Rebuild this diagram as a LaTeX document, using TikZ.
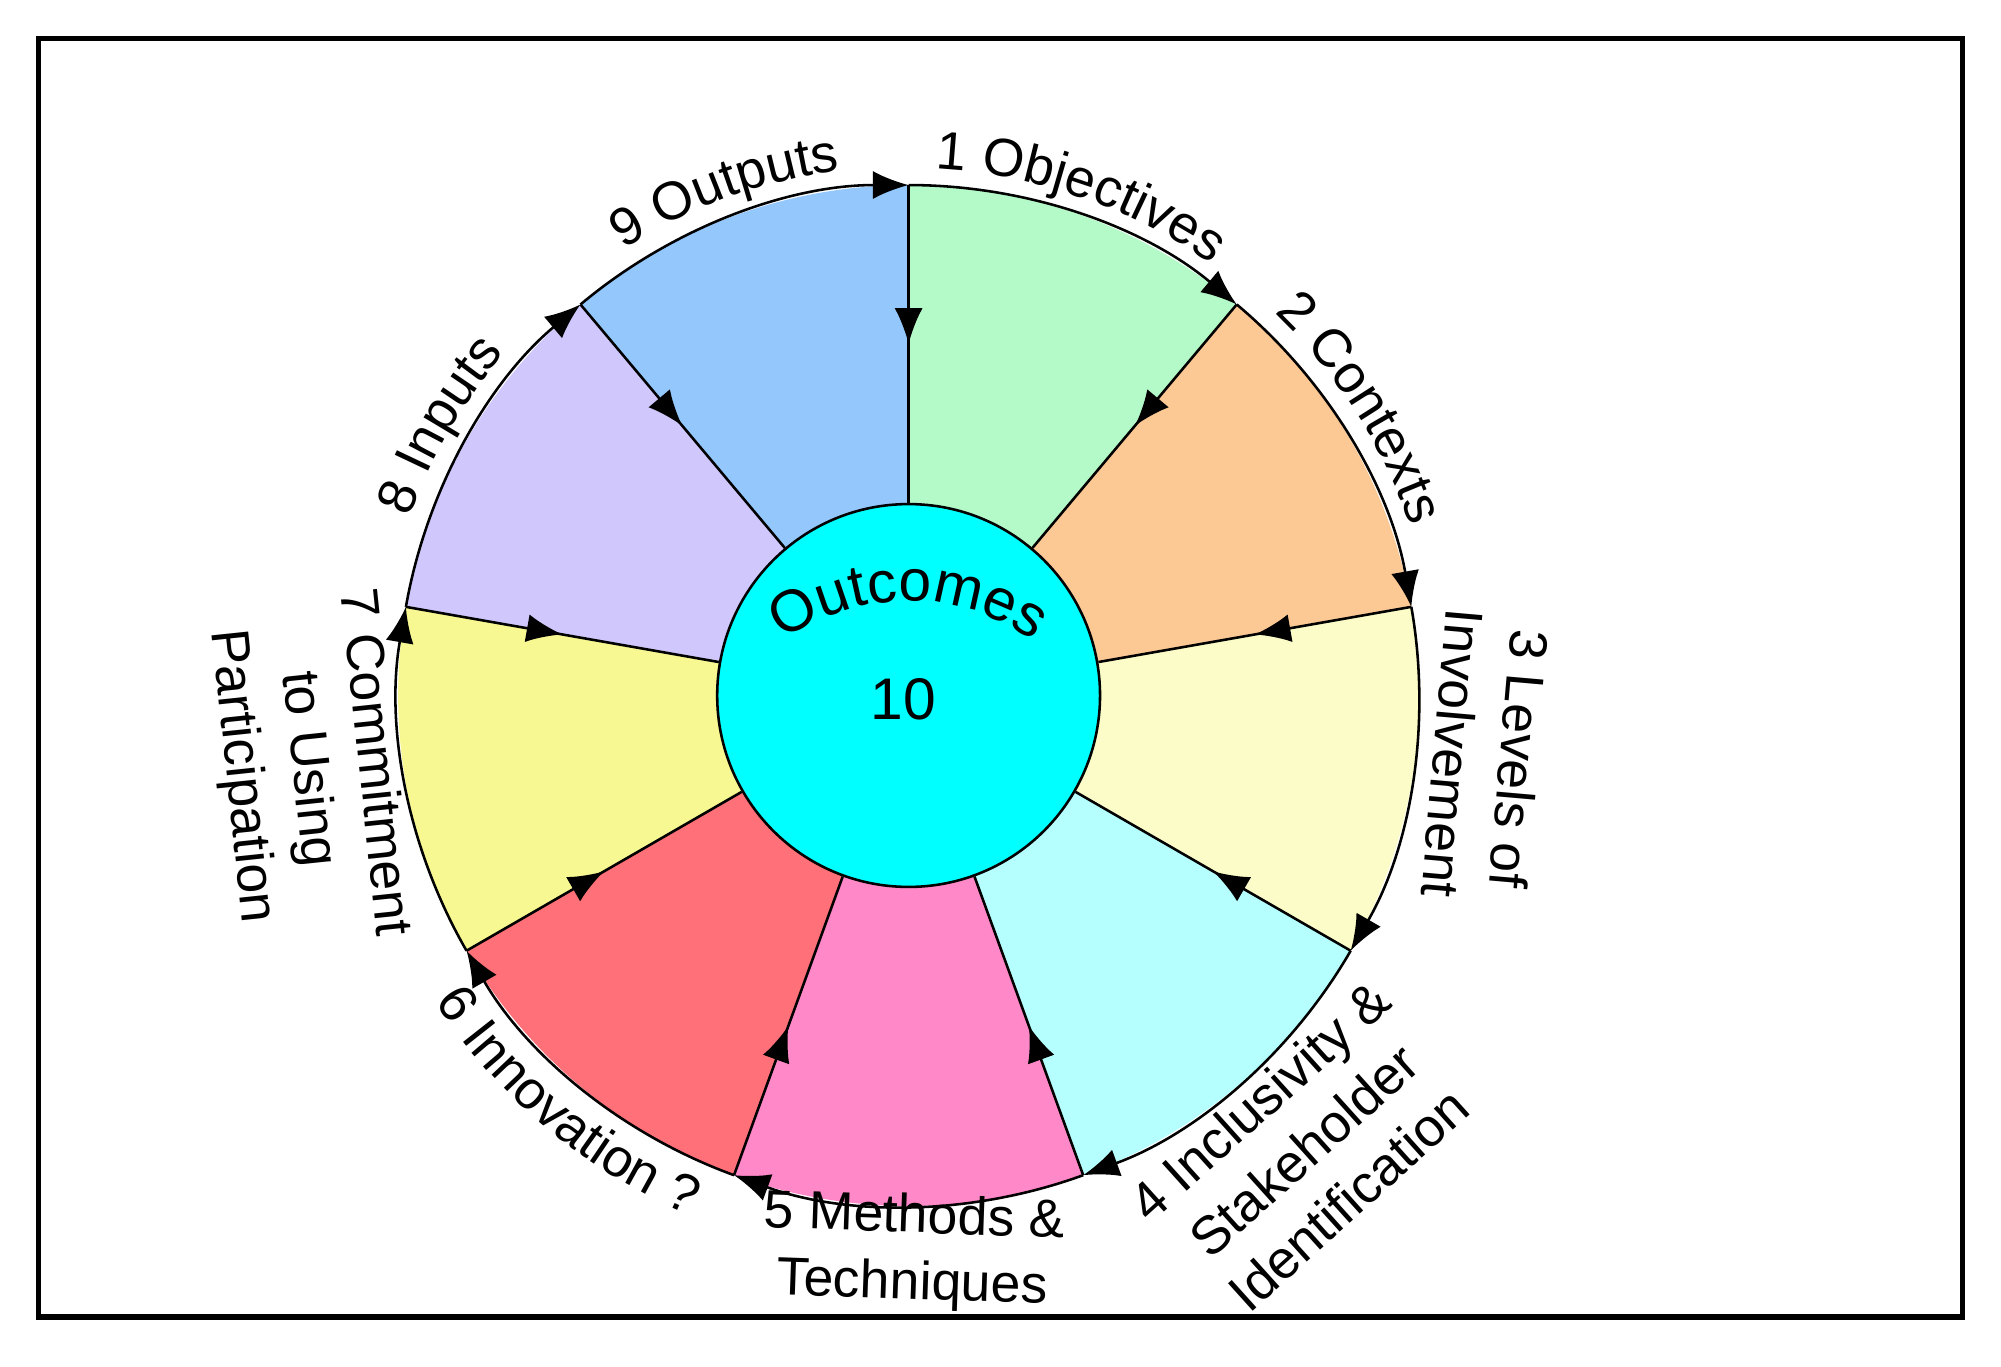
\documentclass[tikz,border=0pt]{standalone}
\usepackage{fontspec}
\setmainfont{Liberation Sans}
\usetikzlibrary{arrows.meta,decorations.markings,decorations.text}
\newcommand\labfont{\fontsize{21}{26}\selectfont}
\newcommand\hubfont{\fontsize{23}{27}\selectfont}
\definecolor{cObj}{RGB}{180,250,200}
\definecolor{cCon}{RGB}{252,200,148}
\definecolor{cLev}{RGB}{252,252,200}
\definecolor{cInc}{RGB}{182,255,255}
\definecolor{cMet}{RGB}{255,136,200}
\definecolor{cInn}{RGB}{255,112,120}
\definecolor{cCom}{RGB}{248,248,146}
\definecolor{cInp}{RGB}{208,200,252}
\definecolor{cOut}{RGB}{148,200,252}
\definecolor{cHub}{RGB}{0,255,255}
\tikzset{
    %Define standard arrow tip
    >={Latex[length=14pt,width=11pt]},
    % spokes with an arrow half way
    spoke/.style={line width=1pt,
           decoration={markings,mark=at position 0.5 with {\arrow{>}}},
           postaction={decorate}},
    rim/.style={line width=1pt,->},
    hub/.style={circle, draw=black, line width=1pt, fill=cHub,
           minimum size=150pt, inner sep=0pt},
    curved/.style={decoration={text along path, text align=center,
           text={|\labfont|#1}}, decorate},
    lab/.style={font=\labfont, align=center, inner sep=0pt}
}
\begin{document}
\begin{tikzpicture}[x=0.5pt,y=0.5pt]
\useasboundingbox (-712,-526) rectangle (856,545);
\draw[line width=2pt] (-682,-487) rectangle (826,515);

% wedges
\foreach \n/\col in {1/cObj,2/cCon,3/cLev,4/cInc,5/cMet,6/cInn,7/cCom,8/cInp,9/cOut}{
  \pgfmathsetmacro\a{90-40*(\n-1)}
  \pgfmathsetmacro\b{90-40*\n}
  \fill[\col] (\a:150) -- (\a:400) arc[start angle=\a, end angle=\b, radius=400]
     -- (\b:150) -- cycle;
  \coordinate (s\n) at (\a:400);
}
\node[hub] (outcomes) at (0,0) {};

% spokes
\foreach \n/\a in {1/90,2/50,3/10,4/-30,5/-70,6/-110,7/-150,8/170,9/130}
  \draw[spoke] (s\n) -- (outcomes.\a);

% rim
\foreach \n in {1,...,9}{
  \pgfmathsetmacro\a{90-40*(\n-1)}
  \pgfmathsetmacro\b{90-40*\n}
  \draw[rim] (\a:400) arc[start angle=\a, end angle=\b, radius=400];
}

% labels
\path[curved={9 Outputs}] (135:415) arc[start angle=135, end angle=85, radius=415];
\path[curved={1 Objectives}] (100:413) arc[start angle=100, end angle=42, radius=413];
\path[curved={2 Contexts}] (60:415) arc[start angle=60, end angle=5, radius=415];
\path[curved={8 Inputs}] (175:415) arc[start angle=175, end angle=125, radius=415];
\path[curved={6 Innovation ?}] (-160:442) arc[start angle=-160, end angle=-100, radius=442];
\node[lab, rotate=-95] (levels) at (-6:455) {3 Levels of\\Involvement};
\node[lab, rotate=42] (inclus) at (-49:472) {4 Inclusivity \&\\Stakeholder\\Identification};
\node[lab, rotate=-2] (methods) at (-89.5:436) {5 Methods \&\\Techniques};
\node[lab, rotate=-84] (commit) at (-173:475) {7 Commitment\\to Using\\Participation};

% centre
\path[decoration={text along path, text align=center, text={|\hubfont|Outcomes}},
   decorate] (-105,38) arc[start angle=128, end angle=52, radius=170];
\node[font=\hubfont] (ten) at (-4,-3) {10};
\end{tikzpicture}
\end{document}
